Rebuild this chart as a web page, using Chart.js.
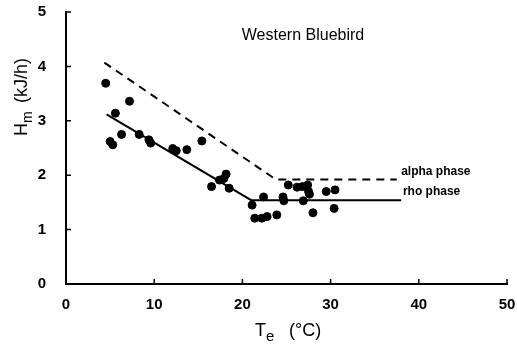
<!DOCTYPE html>
<html lang="en">
<head>
    <meta charset="UTF-8">
    <title>Western Bluebird</title>
    <script src="https://cdn.jsdelivr.net/npm/chart.js"></script>
    <style>
        * { margin: 0; padding: 0; box-sizing: border-box; }
        body { background: white; width: 517px; height: 352px; overflow: hidden; }
        #wrap { position: relative; width: 517px; height: 352px; }
    </style>
</head>
<body>
    <div id="wrap"><canvas id="chart" width="517" height="352"></canvas></div>
    <script>
        // measured birds: operative temperature vs metabolic heat
        const tempC = [4.5, 7.2, 5.6, 5.0, 5.3, 6.3, 8.3, 9.4, 9.6, 12.1, 12.5, 13.7, 15.4,
            16.5, 17.4, 17.9, 18.15, 18.5, 21.1, 21.4, 22.2, 22.4, 22.8, 23.9,
            24.6, 24.7, 25.2, 26.2, 26.8, 26.9, 27.4, 27.5, 27.6, 28.0, 29.5, 30.4, 30.5];
        const heatKJ = [3.69, 3.36, 3.14, 2.62, 2.56, 2.75, 2.75, 2.65, 2.59, 2.49, 2.45, 2.47, 2.63,
            1.79, 1.91, 1.94, 2.02, 1.76, 1.45, 1.21, 1.21, 1.60, 1.24, 1.27,
            1.60, 1.53, 1.82, 1.78, 1.79, 1.53, 1.82, 1.70, 1.65, 1.31, 1.70, 1.39, 1.73];

        // model lines
        const rhoX = [4.6, 21.0, 38.0];
        const rhoY = [3.12, 1.54, 1.54];
        const alphaX = [4.35, 23.8, 37.5];
        const alphaY = [4.07, 1.92, 1.92];

        const xTicks = [0, 10, 20, 30, 40, 50];
        const yTicks = [0, 1, 2, 3, 4, 5];

        const pts = (xs, ys) => xs.map((x, i) => ({ x: x, y: ys[i] }));
        const font = "'Liberation Sans', Arial, sans-serif";

        const decor = {
            id: 'decor',
            afterDraw(chart) {
                const ctx = chart.ctx;
                const xs = chart.scales.x, ys = chart.scales.y;
                const area = chart.chartArea;
                ctx.save();
                ctx.strokeStyle = '#000';
                ctx.lineWidth = 1.5;
                // inward ticks
                ctx.beginPath();
                xTicks.forEach(v => {
                    const px = xs.getPixelForValue(v);
                    ctx.moveTo(px, area.bottom);
                    ctx.lineTo(px, area.bottom - 5);
                });
                yTicks.forEach(v => {
                    const py = ys.getPixelForValue(v);
                    ctx.moveTo(area.left, py);
                    ctx.lineTo(area.left + 5, py);
                });
                ctx.stroke();

                ctx.fillStyle = '#000';
                // title
                ctx.font = '16px ' + font;
                ctx.textAlign = 'center';
                ctx.textBaseline = 'middle';
                ctx.fillText('Western Bluebird', 303, 36);

                // line labels
                ctx.font = 'bold 12px ' + font;
                ctx.textAlign = 'left';
                ctx.textBaseline = 'alphabetic';
                ctx.fillText('alpha phase', xs.getPixelForValue(38.0), ys.getPixelForValue(1.92) - 5);
                ctx.fillText('rho phase', xs.getPixelForValue(38.2), ys.getPixelForValue(1.54) - 5);

                // x title: T_e (°C)
                ctx.font = '18px ' + font;
                ctx.textBaseline = 'alphabetic';
                let x0 = 255, y0 = 336;
                ctx.fillText('T', x0, y0);
                let w = ctx.measureText('T').width;
                ctx.font = '15px ' + font;
                ctx.fillText('e', x0 + w, y0 + 5);
                ctx.font = '18px ' + font;
                ctx.fillText('(°C)', x0 + w + 23, y0);

                // y title: H_m (kJ/h), rotated
                ctx.translate(27, 136);
                ctx.rotate(-Math.PI / 2);
                ctx.font = '18px ' + font;
                ctx.fillText('H', 0, 0);
                w = ctx.measureText('H').width;
                ctx.font = '14px ' + font;
                ctx.fillText('m', w, 5);
                ctx.font = '18px ' + font;
                ctx.fillText('(kJ/h)', w + 20, 0);
                ctx.restore();
            }
        };

        new Chart(document.getElementById('chart'), {
            type: 'scatter',
            data: {
                datasets: [
                    {
                        data: pts(tempC, heatKJ),
                        backgroundColor: '#000',
                        borderColor: '#000',
                        pointRadius: 4,
                        showLine: false
                    },
                    {
                        data: pts(rhoX, rhoY),
                        borderColor: '#000',
                        borderWidth: 2,
                        pointRadius: 0,
                        showLine: true,
                        tension: 0
                    },
                    {
                        data: pts(alphaX, alphaY),
                        borderColor: '#000',
                        borderWidth: 2,
                        borderDash: [8, 6],
                        pointRadius: 0,
                        showLine: true,
                        tension: 0
                    }
                ]
            },
            options: {
                responsive: false,
                animation: false,
                devicePixelRatio: 1,
                layout: { padding: { top: 12, right: 10, left: 0, bottom: 0 } },
                plugins: { legend: { display: false }, tooltip: { enabled: false } },
                scales: {
                    x: {
                        type: 'linear',
                        min: 0, max: 50,
                        afterBuildTicks: s => { s.ticks = xTicks.map(v => ({ value: v })); },
                        afterFit: s => { s.height = 68; s.paddingLeft = 0; s.paddingRight = 0; },
                        grid: { display: false },
                        border: { display: true, color: '#000', width: 2 },
                        ticks: { color: '#000', font: { family: font, size: 15, weight: 'bold' }, padding: 4, maxRotation: 0 }
                    },
                    y: {
                        type: 'linear',
                        min: 0, max: 5,
                        afterBuildTicks: s => { s.ticks = yTicks.map(v => ({ value: v })); },
                        afterFit: s => { s.width = 66; s.paddingTop = 0; s.paddingBottom = 0; },
                        grid: { display: false },
                        border: { display: true, color: '#000', width: 2 },
                        ticks: { color: '#000', font: { family: font, size: 15, weight: 'bold' }, padding: 12 }
                    }
                }
            },
            plugins: [decor]
        });
    </script>
</body>
</html>
